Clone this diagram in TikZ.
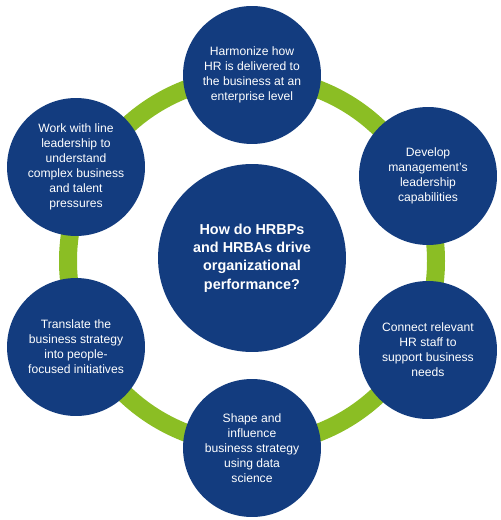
\documentclass[tikz,border=0pt]{standalone}
\usepackage{fontspec}
\setmainfont{Liberation Sans}
\usetikzlibrary{positioning}
\definecolor{bleuN}{HTML}{133C7F}
\definecolor{vertA}{HTML}{8BBE24}
\tikzset{
  rond/.style={circle, fill=bleuN, text=white, align=center, inner sep=0pt,
               minimum size=2.76cm, font=\fontsize{6.9}{8.5}\selectfont},
  coeur/.style={circle, fill=bleuN, text=white, align=center, inner sep=0pt,
                minimum size=3.76cm, font=\bfseries\fontsize{8.2}{10.4}\selectfont},
  anneau/.style={draw=vertA, line width=0.36cm},
}
\begin{document}
\begin{tikzpicture}[x=0.02cm, y=-0.02cm]
  \useasboundingbox (0,0) rectangle (500,520);
  \coordinate (m) at (252,261);
  \draw[anneau] (m) circle (184);
  \node[coeur] (q) at (252,258)
    {How do HRBPs\\and HRBAs drive\\organizational\\performance?};
  \node[rond] (h) at (252,75)
    {Harmonize how\\HR is delivered to\\the business at an\\enterprise level};
  \node[rond] (d) at (428,176)
    {Develop\\management's\\leadership\\capabilities};
  \node[rond] (c) at (428,350)
    {Connect relevant\\HR staff to\\support business\\needs};
  \node[rond] (s) at (252,448)
    {Shape and\\influence\\business strategy\\using data\\science};
  \node[rond] (t) at (76,347)
    {Translate the\\business strategy\\into people-\\focused initiatives};
  \node[rond] (w) at (76,167)
    {Work with line\\leadership to\\understand\\complex business\\and talent\\pressures};
\end{tikzpicture}
\end{document}
